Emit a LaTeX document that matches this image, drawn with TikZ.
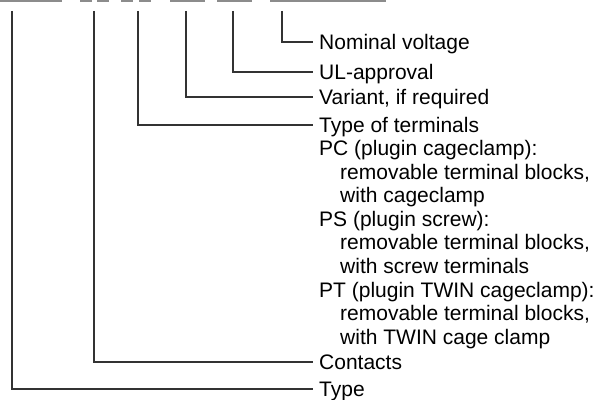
\documentclass[tikz,border=0pt]{standalone}
\usepackage{fontspec}
\setmainfont{Liberation Sans}
\begin{document}
\begin{tikzpicture}[x=1pt,y=1pt,
  lab/.style={anchor=west, inner xsep=6pt, inner ysep=0pt,
    font=\fontsize{21}{23.5}\selectfont, text height=15pt, text depth=0pt, text=black},
  sub/.style={lab, xshift=21pt},
  conn/.style={draw=black!80, line width=1.2pt},
  bar/.style={fill=black!45, draw=none}]
\useasboundingbox (0,0) rectangle (599,399);
% code bars
\foreach \a/\b in {0/62, 80/92, 97/109, 121/133, 139/151, 170/205, 217/252, 270/386}
  \path[bar] (\a,397) rectangle (\b,399);
% tops of the connectors
\coordinate (t1) at (12,388);
\coordinate (t2) at (94,388);
\coordinate (t3) at (138,388);
\coordinate (t4) at (186,388);
\coordinate (t5) at (233,388);
\coordinate (t6) at (282,388);
% labels
\node[lab] (nv) at (313,357) {Nominal voltage};
\node[lab] (ul) at (313,327) {UL-approval};
\node[lab] (var) at (313,302) {Variant, if required};
\node[lab] (tot) at (313,274) {Type of terminals};
\node[lab] (pc) at (313,250.5) {PC (plugin cageclamp):};
\node[sub] (r1) at (313,227) {removable terminal blocks,};
\node[sub] (w1) at (313,203.5) {with cageclamp};
\node[lab] (ps) at (313,180) {PS (plugin screw):};
\node[sub] (r2) at (313,156.5) {removable terminal blocks,};
\node[sub] (w2) at (313,133) {with screw terminals};
\node[lab] (pt) at (313,109.5) {PT (plugin TWIN cageclamp):};
\node[sub] (r3) at (313,86) {removable terminal blocks,};
\node[sub] (w3) at (313,62.5) {with TWIN cage clamp};
\node[lab] (con) at (313,37) {Contacts};
\node[lab] (typ) at (313,10) {Type};
% connectors
\draw[conn] (t6) |- (nv.west);
\draw[conn] (t5) |- (ul.west);
\draw[conn] (t4) |- (var.west);
\draw[conn] (t3) |- (tot.west);
\draw[conn] (t2) |- (con.west);
\draw[conn] (t1) |- (typ.west);
\end{tikzpicture}
\end{document}
